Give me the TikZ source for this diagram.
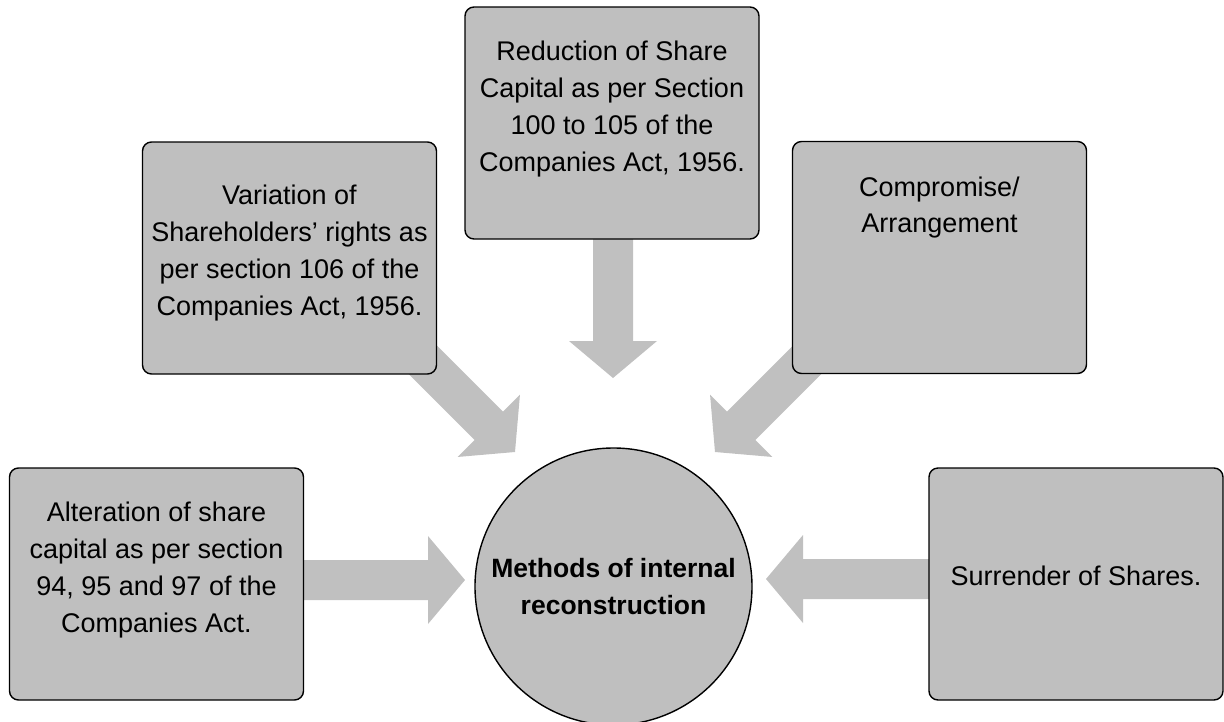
\documentclass[tikz,border=0pt]{standalone}
\usepackage{fontspec}
\setmainfont{Liberation Sans}
\definecolor{boxgray}{RGB}{191,191,191}
\definecolor{arrowgray}{RGB}{192,192,192}
\newcommand\blockarrow[3]{%
  \begin{scope}[shift={(#1)}, rotate=#2]
    \fill[arrowgray] (0,0) -- (-37,44) -- (-37,20) -- (-#3,20) -- (-#3,-20)
      -- (-37,-20) -- (-37,-44) -- cycle;
  \end{scope}}
\tikzset{
  box/.style={draw=black, line width=1.4pt, fill=boxgray, rounded corners=9pt,
    inner sep=0pt, minimum width=294pt, minimum height=232pt},
  boxtext/.style={align=center, inner sep=0pt,
    font=\fontsize{27}{36.7}\selectfont},
  hub/.style={draw=black, line width=1.4pt, fill=boxgray, circle, inner sep=0pt,
    minimum size=277pt, align=center,
    font=\fontsize{26.5}{36.5}\selectfont\bfseries}
}
\begin{document}
\begin{tikzpicture}[x=1pt, y=-1pt]
\useasboundingbox (0,0) rectangle (1224,721);
% arrow tips
\coordinate (tL) at (465,580);
\coordinate (tR) at (766,579);
\coordinate (tT) at (613,378);
\coordinate (tTL) at (515,452);
\coordinate (tTR) at (715,452);
\blockarrow{tL}{0}{170}
\blockarrow{tR}{180}{170}
\blockarrow{tT}{-90}{150}
\blockarrow{tTL}{-45}{140}
\blockarrow{tTR}{-135}{140}
% boxes
\node[box] (alt) at (156.5,584) {};
\node[boxtext] (altT) at ([yshift=14pt]alt.center) {Alteration of share\\capital as per section\\94, 95 and 97 of the\\Companies Act.};
\node[box] (var) at (289.5,258) {};
\node[boxtext] (varT) at ([yshift=5pt]var.center) {Variation of\\Shareholders’ rights as\\per section 106 of the\\Companies Act, 1956.};
\node[box] (red) at (612,123) {};
\node[boxtext] (redT) at ([yshift=14pt]red.center) {Reduction of Share\\Capital as per Section\\100 to 105 of the\\Companies Act, 1956.};
\node[box] (comp) at (939.5,257.5) {};
\node[boxtext] (compT) at ([yshift=50pt]comp.center) {Compromise/\\Arrangement};
\node[box] (sur) at (1076,584) {};
\node[boxtext] (surT) at ([yshift=8pt]sur.center) {Surrender of Shares.};
\node[hub] (hub) at (613.5,586.5) {Methods of internal\\reconstruction};
\end{tikzpicture}
\end{document}
